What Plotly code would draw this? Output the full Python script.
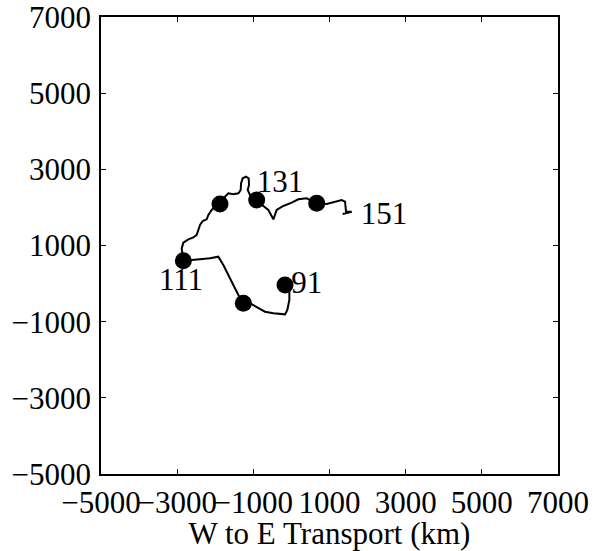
import plotly.graph_objects as go

# Track (W to E, S to N transport, km)
track_x = [-168, -54, -54, -107, -168, -474, -693, -912, -1087, -1262,
           -1393, -1525, -1656, -1787, -1919, -2137, -2400, -2619, -2838,
           -2881, -2838, -2706, -2575, -2488, -2444, -2400, -2330, -2225,
           -2181, -2094, -2006, -1875,
           -1744, -1656, -1525, -1393, -1332, -1323, -1280, -1193, -1122,
           -1113, -1148, -1087, -956, -912,
           -737, -606, -474, -387, -212, 7, 182, 401, 664,
           926, 1145, 1320, 1408, 1434, 1583, 1346]
track_y = [-37, -125, -431, -694, -808, -781, -738, -624, -519, -519,
           -300, -37, 225, 488, 707, 663, 637, 619, 602,
           925, 1075, 1162, 1215, 1276, 1407, 1538, 1643, 1687,
           1801, 1932, 2020, 2063,
           2282, 2370, 2343, 2370, 2457, 2632, 2764, 2807, 2764,
           2589, 2457, 2326, 2238, 2195,
           2037, 1932, 1687, 1932, 2037, 2125, 2212, 2238, 2107,
           2090, 2151, 2195, 2151, 1888, 1888, 1827]

# Ten-day markers
dot_x = [-168, -1262, -2838, -1875, -912, 664]
dot_y = [-37, -519, 602, 2090, 2195, 2107]

# Day labels
label_text = ["91", "111", "131", "151"]
label_x = [404, -2899, -299, 2432]
label_y = [-38, 41, 2614, 1774]

tick_vals = [-5000, -3000, -1000, 1000, 3000, 5000, 7000]

font = dict(family="Liberation Serif, Times New Roman, serif", size=31, color="black")

fig = go.Figure()
fig.add_trace(go.Scatter(x=track_x, y=track_y, mode="lines",
                         line=dict(color="black", width=2), hoverinfo="skip"))
fig.add_trace(go.Scatter(x=dot_x, y=dot_y, mode="markers",
                         marker=dict(color="black", size=17)))
fig.add_trace(go.Scatter(x=label_x, y=label_y, mode="text", text=label_text,
                         textfont=font, textposition="middle center"))

axis = dict(range=[-5000, 7000], tickvals=tick_vals, ticks="inside", ticklen=5,
            tickcolor="black", showline=True, linecolor="black", linewidth=1.5,
            mirror="ticks", showgrid=False, zeroline=False, tickangle=0,
            tickfont=font, automargin=False)

fig.update_layout(
    width=593, height=551,
    margin=dict(l=101, r=35, t=17, b=77),
    paper_bgcolor="white", plot_bgcolor="white",
    showlegend=False,
    xaxis=dict(axis, title=dict(text="W to E Transport (km)", font=font, standoff=2)),
    yaxis=dict(axis, ticklabelstandoff=2),
    font=font,
)
fig.write_html("out.html", config={"displayModeBar": False},
               post_script="document.body.style.margin='0';document.body.style.overflow='hidden';")
